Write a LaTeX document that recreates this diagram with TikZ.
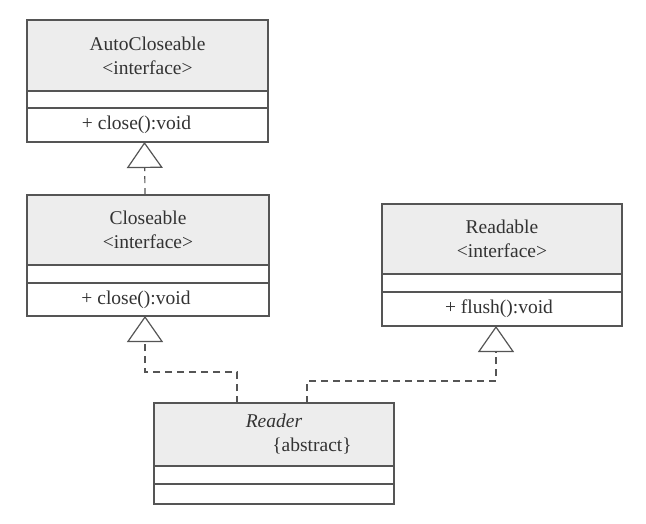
\documentclass[tikz,border=0pt]{standalone}
\usepackage{fontspec}
\setmainfont{Liberation Serif}
\usetikzlibrary{arrows.meta,calc}
\definecolor{txt}{HTML}{333333}
\definecolor{ln}{HTML}{555555}
\definecolor{hdrfill}{HTML}{EDEDED}
\begin{document}
\begin{tikzpicture}[x=1pt,y=-1pt,
  every node/.style={font=\fontsize{19.5}{24}\selectfont, text=txt},
  hdr/.style={draw=ln, line width=1.2pt, fill=hdrfill, inner sep=0pt, outer sep=0pt, align=center, anchor=north west},
  cmp/.style={draw=ln, line width=1.2pt, fill=white, inner sep=0pt, outer sep=0pt, anchor=north},
  impl/.style={draw=ln, line width=1.2pt, dash pattern=on 7pt off 5pt,
    -{Triangle[open, length=26pt, width=36pt, line width=1.2pt]}}]
\useasboundingbox (0,0) rectangle (646,523);
\fill[white] (0,0) rectangle (646,523);
% AutoCloseable
\node[hdr, minimum width=241, minimum height=71] (ach) at (27,20) {AutoCloseable\\<interface>};
\node[cmp, minimum width=241, minimum height=17] (aca) at (ach.south) {};
\node[cmp, minimum width=241, minimum height=34] (aco) at (aca.south) {};
\node[xshift=-11pt] (acot) at (aco.center) {+ close():void};
% Closeable
\node[hdr, minimum width=242, minimum height=70] (clh) at (27,195) {Closeable\\<interface>};
\node[cmp, minimum width=242, minimum height=18] (cla) at (clh.south) {};
\node[cmp, minimum width=242, minimum height=33] (clo) at (cla.south) {};
\node[xshift=-12pt] (clot) at (clo.center) {+ close():void};
% Readable
\node[hdr, minimum width=240, minimum height=70] (rdh) at (382,204) {Readable\\<interface>};
\node[cmp, minimum width=240, minimum height=18] (rda) at (rdh.south) {};
\node[cmp, minimum width=240, minimum height=34] (rdo) at (rda.south) {};
\node[xshift=-3pt] (rdot) at (rdo.center) {+ flush():void};
% Reader
\node[hdr, minimum width=240, minimum height=63] (reh) at (154,403) {\textit{Reader}\\\hspace*{76pt}\{abstract\}};
\node[cmp, minimum width=240, minimum height=18] (rea) at (reh.south) {};
\node[cmp, minimum width=240, minimum height=20] (reo) at (rea.south) {};
% connectors
\draw[impl] ([xshift=-3pt]clh.north) -- ([xshift=-3pt]aco.south);
\draw[impl] ([xshift=-37pt]reh.north) -- ++(0,-31) -| ([xshift=-3pt]clo.south);
\draw[impl] ([xshift=33pt]reh.north) -- ++(0,-22) -| ([xshift=-6pt]rdo.south);
\end{tikzpicture}
\end{document}
